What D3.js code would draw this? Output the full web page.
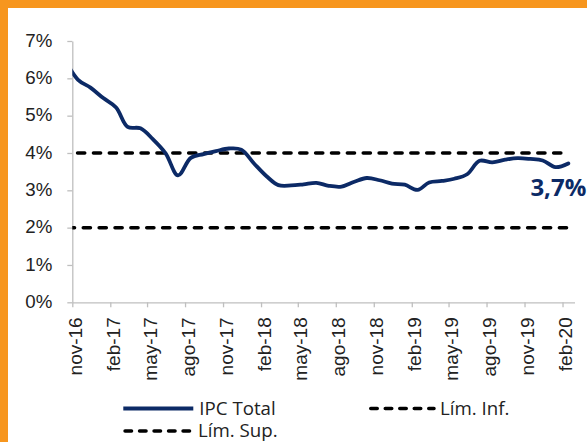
<!DOCTYPE html>
<html><head><meta charset="utf-8">
<script src="https://cdn.jsdelivr.net/npm/d3@7"></script>
<style>
html,body{margin:0;padding:0;background:#fff;}
svg{display:block;font-family:"Open Sans","Noto Sans",sans-serif;}
</style></head>
<body>
<svg id="chart" width="587" height="442"></svg>
<script>
// ---- data ----
const months = ["2016-10","2016-11","2016-12","2017-01","2017-02","2017-03","2017-04","2017-05","2017-06","2017-07","2017-08","2017-09","2017-10","2017-11","2017-12",
"2018-01","2018-02","2018-03","2018-04","2018-05","2018-06","2018-07","2018-08","2018-09","2018-10","2018-11","2018-12",
"2019-01","2019-02","2019-03","2019-04","2019-05","2019-06","2019-07","2019-08","2019-09","2019-10","2019-11","2019-12",
"2020-01","2020-02"];
const ipcTotal = [6.48,5.96,5.75,5.47,5.22,4.70,4.66,4.37,3.99,3.40,3.87,3.97,4.05,4.12,4.09,
3.72,3.37,3.14,3.13,3.16,3.20,3.12,3.10,3.23,3.33,3.27,3.18,
3.15,3.01,3.21,3.25,3.31,3.43,3.79,3.75,3.82,3.86,3.84,3.80,
3.62,3.72];
const limInf = 2.0;
const limSup = 4.0;
const yTicks = [0,1,2,3,4,5,6,7];
const xTickMonths = ["2016-11","2017-02","2017-05","2017-08","2017-11","2018-02","2018-05","2018-08","2018-11","2019-02","2019-05","2019-08","2019-11","2020-02"];
const mesAbbr = ["ene","feb","mar","abr","may","jun","jul","ago","sep","oct","nov","dic"];
const lastLabel = "3,7%";
const legendItems = ["IPC Total","Lím. Inf.","Lím. Sup."];

// ---- setup ----
const svg = d3.select("#chart");
const W = 587, H = 442;
const navy = "#0c2a66";
const orange = "#f7961e";
const axisGray = "#bfbfbf";
const textCol = "#222";

svg.append("rect").attr("width",W).attr("height",H).attr("fill","#fff");
svg.append("rect").attr("x",0).attr("y",0).attr("width",W).attr("height",8).attr("fill",orange);
svg.append("rect").attr("x",0).attr("y",0).attr("width",8).attr("height",H).attr("fill",orange);

const parseM = d3.timeParse("%Y-%m");
const mid = s => { const d = parseM(s); d.setDate(15); return d; };
const data = months.map((m,i)=>({date: mid(m), v: ipcTotal[i]}));

const x = d3.scaleTime()
  .domain([new Date(2016,10,1), new Date(2020,2,1)])
  .range([72.3, 574.5]);
const y = d3.scaleLinear().domain([0,7]).range([302.3, 41]);

// clip
svg.append("defs").append("clipPath").attr("id","plotclip")
  .append("rect").attr("x",72.3).attr("y",0).attr("width",574.5-72.3+14).attr("height",302.3);

// axes
const yAxis = d3.axisLeft(y).tickValues(yTicks).tickSize(5).tickSizeOuter(0)
  .tickFormat(d => d + "%");
const gy = svg.append("g").attr("transform","translate(72.3,0)").call(yAxis);
gy.selectAll("path,line").attr("stroke",axisGray).attr("stroke-width",1.3);
gy.selectAll("text").attr("fill",textCol).style("font-size","18.7px")
  .attr("x",-20).attr("dy","0.27em");

const xAxis = d3.axisBottom(x).tickValues(xTickMonths.map(parseM)).tickSize(5).tickSizeOuter(0)
  .tickFormat(d => mesAbbr[d.getMonth()] + "-" + String(d.getFullYear()).slice(2));
const gx = svg.append("g").attr("transform","translate(0,302.3)").call(xAxis);
gx.selectAll("path,line").attr("stroke",axisGray).attr("stroke-width",1.3);
gx.selectAll("text").attr("fill",textCol).style("font-size","19px")
  .attr("transform","rotate(-90)")
  .attr("text-anchor","end")
  .attr("x",-15).attr("y",2.5).attr("dy","0.35em");

// limit lines
const plot = svg.append("g").attr("clip-path","url(#plotclip)");
const x0 = x.range()[0];
const xEnd = x(data[data.length-1].date);
plot.append("line").attr("x1",x0).attr("x2",xEnd).attr("y1",y(limSup)).attr("y2",y(limSup))
  .attr("stroke","#000").attr("stroke-width",3.5).attr("stroke-linecap","round")
  .attr("stroke-dasharray","7.2,8.67").attr("stroke-dashoffset",-5.25);
plot.append("line").attr("x1",x0).attr("x2",xEnd).attr("y1",y(limInf)).attr("y2",y(limInf))
  .attr("stroke","#000").attr("stroke-width",3.5).attr("stroke-linecap","round")
  .attr("stroke-dasharray","7.2,8.67").attr("stroke-dashoffset",-10.95);

// IPC line
const line = d3.line().x(d=>x(d.date)).y(d=>y(d.v)).curve(d3.curveCatmullRom.alpha(0.5));
plot.append("path").datum(data).attr("d",line).attr("fill","none")
  .attr("stroke",navy).attr("stroke-width",3.8).attr("stroke-linejoin","round").attr("stroke-linecap","round");

// end label
const last = data[data.length-1];
svg.append("text").attr("x",x(last.date)+18).attr("y",y(last.v)+33)
  .attr("text-anchor","end").attr("fill",navy).style("font-size","24px").style("font-weight","bold")
  .text(lastLabel);

// legend
const lg = svg.append("g");
function legendEntry(x1, x2, yy, dashed, label, color){
  const l = lg.append("line").attr("x1",x1).attr("x2",x2).attr("y1",yy).attr("y2",yy)
    .attr("stroke",color).attr("stroke-width",dashed?3.5:4);
  if(dashed) l.attr("stroke-linecap","round").attr("stroke-dasharray","6.5,8").attr("stroke-dashoffset",-1.75);
  lg.append("text").attr("x",x2+6).attr("y",yy+6).attr("fill",textCol)
    .style("font-size","18.7px").text(label);
}
legendEntry(123.3,193.3,408.5,false,legendItems[0],navy);
legendEntry(369,434,408.5,true,legendItems[1],"#000");
legendEntry(123.3,192,431,true,legendItems[2],"#000");
</script>
</body></html>
